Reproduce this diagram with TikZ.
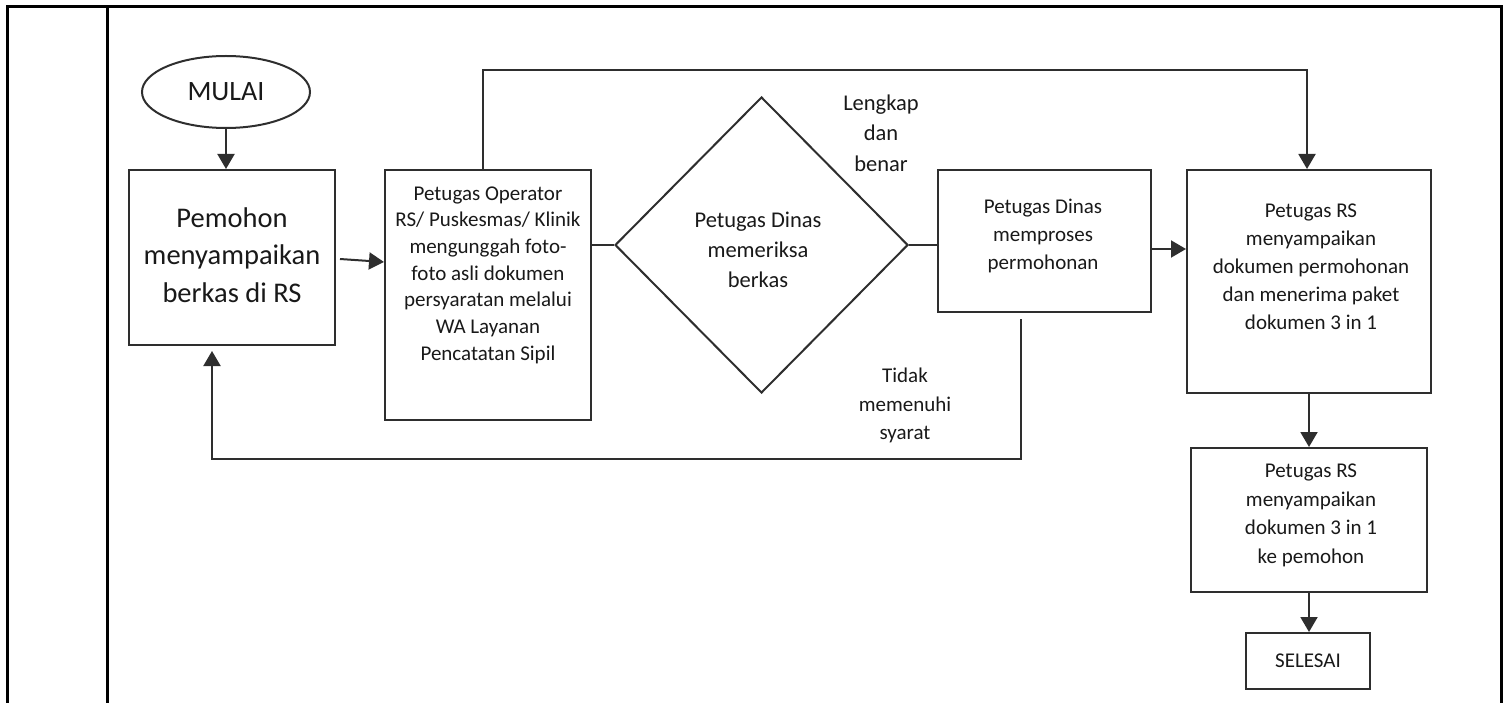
\documentclass[tikz,border=0pt]{standalone}
\usepackage{fontspec}
\setmainfont{Carlito}
\usetikzlibrary{shapes.geometric,arrows.meta}
\definecolor{ln}{gray}{0.18}
\definecolor{tx}{gray}{0.1}
\tikzset{
  ln/.style={draw=ln, line width=2pt},
  arr/.style={ln, -{Triangle[length=15pt,width=17pt]}},
  box/.style={rectangle, draw=ln, line width=2pt, inner sep=0pt},
  txt/.style={align=center, text=tx, inner sep=0pt},
  frame/.style={draw=black, line width=3pt}
}
\begin{document}
\begin{tikzpicture}[x=1pt,y=-1pt]
\useasboundingbox (0,0) rectangle (1509,703);
% table frame
\draw[frame] (7,703) -- (7,7) -- (1501,7) -- (1501,703);
\draw[frame] (107,7) -- (107,703);

% nodes
\node[ellipse, draw=ln, line width=2pt, minimum width=168pt, minimum height=72pt, inner sep=0pt, text=tx,
      font=\fontsize{28}{32}\selectfont] (mulai) at (226,92) {MULAI};

\node[box, minimum width=206pt, minimum height=175pt] (pem) at (232,257.5) {};
\node[txt, font=\fontsize{28.5}{37.5}\selectfont] (pemT) at (232,255) {Pemohon\\menyampaikan\\berkas di RS};

\node[box, minimum width=206pt, minimum height=250pt] (op) at (488,295) {};
\node[txt, font=\fontsize{21}{26.7}\selectfont] (opT) at (488,275)
  {Petugas Operator\\RS/ Puskesmas/ Klinik\\mengunggah foto-\\foto asli dokumen\\persyaratan melalui\\WA Layanan\\Pencatatan Sipil};

\node[diamond, draw=ln, line width=2pt, minimum width=293pt, minimum height=296pt, inner sep=0pt] (dia) at (761.5,245) {};
\node[txt, font=\fontsize{22.5}{30}\selectfont] (diaT) at (758,250) {Petugas Dinas\\memeriksa\\berkas};

\node[box, minimum width=213pt, minimum height=142pt] (din) at (1044.5,241) {};
\node[txt, font=\fontsize{21}{28}\selectfont] (dinT) at (1043,236) {Petugas Dinas\\memproses\\permohonan};

\node[box, minimum width=244pt, minimum height=223pt] (rs) at (1309,281.5) {};
\node[txt, font=\fontsize{21}{28}\selectfont] (rsT) at (1311,266.5)
  {Petugas RS\\menyampaikan\\dokumen permohonan\\dan menerima paket\\dokumen 3 in 1};

\node[box, minimum width=236pt, minimum height=144pt] (b2) at (1309,520) {};
\node[txt, font=\fontsize{21}{28.5}\selectfont] (b2T) at (1311,515.5)
  {Petugas RS\\menyampaikan\\dokumen 3 in 1\\ke pemohon};

\node[box, minimum width=124pt, minimum height=56pt, text=tx, font=\fontsize{21}{24}\selectfont] (sel) at (1308,661) {SELESAI};

% labels
\node[txt, font=\fontsize{22.5}{30.5}\selectfont] (lengkap) at (881,133) {Lengkap\\dan\\benar};
\node[txt, font=\fontsize{21}{28.5}\selectfont] (tidak) at (905,405.5) {Tidak\\memenuhi\\syarat};

% helper coordinates
\coordinate (pa) at (340,259);
\coordinate (pb) at (0,262);
\coordinate (topc) at (483,70);
\coordinate (fb) at (1021,319);
\coordinate (fbc) at (212,459);
\coordinate (rsa) at (0,249);

% connectors
\draw[arr] (mulai.south) -- (mulai.south |- pem.north);
\draw[arr] (pa) -- (op.west |- pb);
\draw[ln] (op.east |- dia.west) -- (dia.west);
\draw[ln] (dia.east) -- (dia.east -| din.west);
\draw[arr] (din.east |- rsa) -- (rs.west |- rsa);
\draw[arr] (op.north -| topc) -- (topc) -| ([xshift=-2pt]rs.north);
\draw[arr] (rs.south) -- (rs.south |- b2.north);
\draw[arr] (b2.south) -- (b2.south |- sel.north);
\draw[arr, shorten >=5pt] (fb) |- (fbc) -- (fbc |- pem.south);
\end{tikzpicture}
\end{document}
